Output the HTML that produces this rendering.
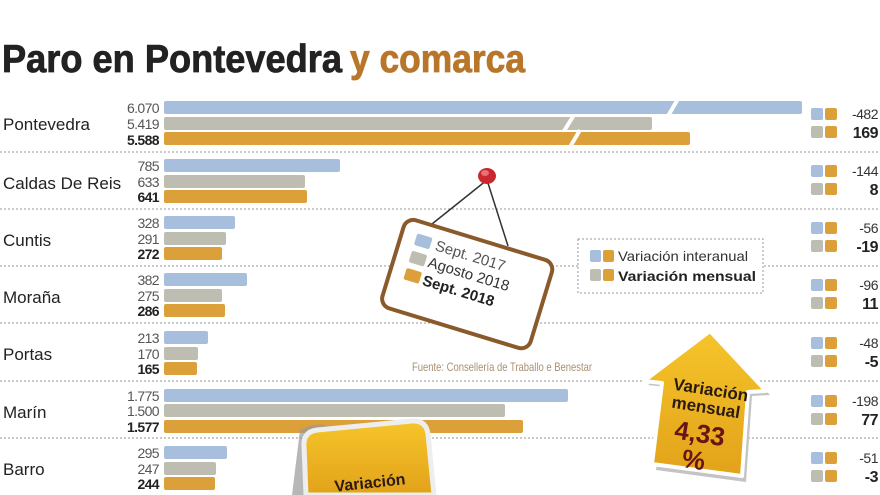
<!DOCTYPE html>
<html><head><meta charset="utf-8"><style>
html,body{margin:0;padding:0;background:#fff;width:880px;height:495px;overflow:hidden;}
svg{display:block;}
</style></head><body>
<svg width="880" height="495" viewBox="0 0 880 495" xmlns="http://www.w3.org/2000/svg" font-family="Liberation Sans, sans-serif" overflow="hidden">
<defs>
<linearGradient id="yg" x1="0" y1="0" x2="0" y2="1"><stop offset="0" stop-color="#f6c52a"/><stop offset="1" stop-color="#e2a21a"/></linearGradient>
</defs>
<rect width="880" height="495" fill="#fff"/>
<text x="2" y="72" font-family="Liberation Sans Narrow, Liberation Sans, sans-serif" font-weight="bold" font-size="39" fill="#222" stroke="#222" stroke-width="0.8" textLength="340" lengthAdjust="spacingAndGlyphs">Paro en Pontevedra</text>
<text x="350" y="72" font-family="Liberation Sans Narrow, Liberation Sans, sans-serif" font-weight="bold" font-size="39" fill="#b8762a" stroke="#b8762a" stroke-width="0.8" textLength="175" lengthAdjust="spacingAndGlyphs">y comarca</text>

<g stroke="#aaa" stroke-width="1.2" stroke-dasharray="2,2">
<line x1="0" y1="152" x2="880" y2="152"/><line x1="0" y1="209" x2="880" y2="209"/>
<line x1="0" y1="266" x2="880" y2="266"/><line x1="0" y1="323" x2="880" y2="323"/>
<line x1="0" y1="381" x2="880" y2="381"/><line x1="0" y1="438" x2="880" y2="438"/>
</g>

<g font-size="17" fill="#222">
<text x="3" y="130">Pontevedra</text>
<text x="3" y="189">Caldas De Reis</text>
<text x="3" y="246">Cuntis</text>
<text x="3" y="303">Moraña</text>
<text x="3" y="360">Portas</text>
<text x="3" y="418">Marín</text>
<text x="3" y="475">Barro</text>
</g>

<g>
<rect x="164" y="101" width="638" height="13" rx="2" fill="#a7bedc"/>
<rect x="164" y="117" width="488" height="13" rx="2" fill="#bdbdb1"/>
<rect x="164" y="132" width="526" height="13" rx="2" fill="#dca03a"/>
<g stroke="#fff" stroke-width="4"><line x1="678" y1="99" x2="668" y2="116"/><line x1="574" y1="115" x2="564" y2="131"/><line x1="580" y1="130" x2="570" y2="147"/></g>
<rect x="164" y="159" width="176" height="13" rx="2" fill="#a7bedc"/>
<rect x="164" y="175" width="141" height="13" rx="2" fill="#bdbdb1"/>
<rect x="164" y="190" width="143" height="13" rx="2" fill="#dca03a"/>
<rect x="164" y="216" width="71" height="13" rx="2" fill="#a7bedc"/>
<rect x="164" y="232" width="62" height="13" rx="2" fill="#bdbdb1"/>
<rect x="164" y="247" width="58" height="13" rx="2" fill="#dca03a"/>
<rect x="164" y="273" width="83" height="13" rx="2" fill="#a7bedc"/>
<rect x="164" y="289" width="58" height="13" rx="2" fill="#bdbdb1"/>
<rect x="164" y="304" width="61" height="13" rx="2" fill="#dca03a"/>
<rect x="164" y="331" width="44" height="13" rx="2" fill="#a7bedc"/>
<rect x="164" y="347" width="34" height="13" rx="2" fill="#bdbdb1"/>
<rect x="164" y="362" width="33" height="13" rx="2" fill="#dca03a"/>
<rect x="164" y="389" width="404" height="13" rx="2" fill="#a7bedc"/>
<rect x="164" y="404" width="341" height="13" rx="2" fill="#bdbdb1"/>
<rect x="164" y="420" width="359" height="13" rx="2" fill="#dca03a"/>
<rect x="164" y="446" width="63" height="13" rx="2" fill="#a7bedc"/>
<rect x="164" y="462" width="52" height="13" rx="2" fill="#bdbdb1"/>
<rect x="164" y="477" width="51" height="13" rx="2" fill="#dca03a"/>
</g>

<g font-size="14" text-anchor="end" fill="#555" letter-spacing="-0.6">
<text x="159" y="113">6.070</text><text x="159" y="129">5.419</text><text x="159" y="145" font-weight="bold" fill="#222">5.588</text>
<text x="159" y="171">785</text><text x="159" y="187">633</text><text x="159" y="202" font-weight="bold" fill="#222">641</text>
<text x="159" y="228">328</text><text x="159" y="244">291</text><text x="159" y="259" font-weight="bold" fill="#222">272</text>
<text x="159" y="285">382</text><text x="159" y="301">275</text><text x="159" y="316" font-weight="bold" fill="#222">286</text>
<text x="159" y="343">213</text><text x="159" y="359">170</text><text x="159" y="374" font-weight="bold" fill="#222">165</text>
<text x="159" y="401">1.775</text><text x="159" y="416">1.500</text><text x="159" y="432" font-weight="bold" fill="#222">1.577</text>
<text x="159" y="458">295</text><text x="159" y="474">247</text><text x="159" y="489" font-weight="bold" fill="#222">244</text>
</g>

<g id="sq">
<rect x="811" y="108" width="12" height="12" rx="2" fill="#a7bedc"/><rect x="825" y="108" width="12" height="12" rx="2" fill="#dca03a"/>
<rect x="811" y="126" width="12" height="12" rx="2" fill="#bdbdb1"/><rect x="825" y="126" width="12" height="12" rx="2" fill="#dca03a"/>
</g>
<use href="#sq" y="57"/><use href="#sq" y="114"/><use href="#sq" y="171"/><use href="#sq" y="229"/><use href="#sq" y="287"/><use href="#sq" y="344"/>
<g font-size="14" text-anchor="end" fill="#333" letter-spacing="-0.5">
<text x="878" y="119">-482</text><text x="878" y="138" font-weight="bold" font-size="16" fill="#222">169</text>
<text x="878" y="176">-144</text><text x="878" y="195" font-weight="bold" font-size="16" fill="#222">8</text>
<text x="878" y="233">-56</text><text x="878" y="252" font-weight="bold" font-size="16" fill="#222">-19</text>
<text x="878" y="290">-96</text><text x="878" y="309" font-weight="bold" font-size="16" fill="#222">11</text>
<text x="878" y="348">-48</text><text x="878" y="367" font-weight="bold" font-size="16" fill="#222">-5</text>
<text x="878" y="406">-198</text><text x="878" y="425" font-weight="bold" font-size="16" fill="#222">77</text>
<text x="878" y="463">-51</text><text x="878" y="482" font-weight="bold" font-size="16" fill="#222">-3</text>
</g>

<rect x="578" y="239" width="185" height="54" fill="#fff" stroke="#999" stroke-dasharray="2,2"/>
<rect x="590" y="250" width="11" height="12" rx="2" fill="#a7bedc"/><rect x="603" y="250" width="11" height="12" rx="2" fill="#dca03a"/>
<rect x="590" y="269" width="11" height="12" rx="2" fill="#bdbdb1"/><rect x="603" y="269" width="11" height="12" rx="2" fill="#dca03a"/>
<text x="618" y="261" font-size="14" fill="#333" textLength="130" lengthAdjust="spacingAndGlyphs">Variación interanual</text>
<text x="618" y="281" font-size="14" font-weight="bold" fill="#222" textLength="138" lengthAdjust="spacingAndGlyphs">Variación mensual</text>

<text x="412" y="371" font-size="12" fill="#a89070" textLength="180" lengthAdjust="spacingAndGlyphs">Fuente: Consellería de Traballo e Benestar</text>

<line x1="487" y1="180" x2="422" y2="232" stroke="#333" stroke-width="1.5"/>
<line x1="487" y1="180" x2="508" y2="246" stroke="#333" stroke-width="1.5"/>
<g transform="rotate(17 467 283)">
<rect x="390" y="238" width="155" height="92" rx="10" fill="#fff" stroke="#8b5a2b" stroke-width="4"/>
<rect x="405" y="250" width="16" height="12" rx="2" fill="#a7bedc"/>
<rect x="405" y="268" width="16" height="12" rx="2" fill="#bdbdb1"/>
<rect x="405" y="286" width="16" height="12" rx="2" fill="#dca03a"/>
<text x="426" y="261" font-size="15" fill="#555">Sept. 2017</text>
<text x="424" y="279" font-size="15" fill="#333">Agosto 2018</text>
<text x="424" y="298" font-size="15" font-weight="bold" fill="#222">Sept. 2018</text>
</g>
<ellipse cx="487" cy="176" rx="9" ry="8" fill="#c8282e"/>
<ellipse cx="485" cy="173" rx="4" ry="3" fill="#e87078"/>

<polygon points="712,335 770,395 752,396 746,482 656,470 666,387 648,385" fill="#c4c4c4"/>
<polygon points="710,331 766,391 748,392 742,476 652,464 662,383 644,381" fill="url(#yg)" stroke="#fff" stroke-width="4" stroke-linejoin="round"/>
<g transform="rotate(9 705 420)" text-anchor="middle" font-weight="bold">
<text x="706" y="395" font-size="17" fill="#2a1a10">Variación</text>
<text x="704" y="413" font-size="17" fill="#2a1a10">mensual</text>
<text x="702" y="443" font-size="26" fill="#6a1515">4,33</text>
<text x="700" y="470" font-size="26" fill="#6a1515">%</text>
</g>

<path d="M300 430 Q330 415 340 440 L320 495 L292 495 Z" fill="#999" opacity="0.7"/>
<path d="M306 495 L304 446 Q303 432 317 430 L412 421 Q426 420 428 434 L434 495 Z" fill="url(#yg)" stroke="#eee" stroke-width="5"/>
<text x="370" y="488" font-size="16" font-weight="bold" fill="#2a1a10" text-anchor="middle" transform="rotate(-6 370 483)">Variación</text>
</svg>
</body></html>
